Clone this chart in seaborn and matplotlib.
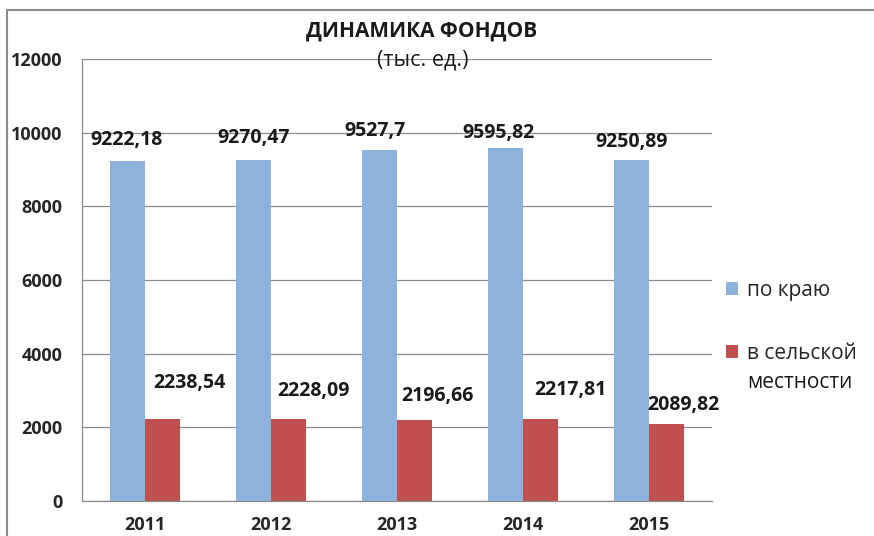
import matplotlib
matplotlib.use("Agg")
import pandas as pd
import seaborn as sns
import matplotlib.pyplot as plt
from matplotlib.patches import Rectangle

# Data
years = ["2011", "2012", "2013", "2014", "2015"]
po_krayu = [9222.18, 9270.47, 9527.7, 9595.82, 9250.89]
v_selskoy = [2238.54, 2228.09, 2196.66, 2217.81, 2089.82]
series_names = ["по краю", "в сельской местности"]

# label offsets relative to bar top (pixels), Excel placed them by hand
blue_off = [(-1, 21), (0, 22), (-4, 19), (-7, 15), (0, 18)]
red_off = [(27, 36), (25, 28), (23, 24), (30, 29), (17, 19)]

df = pd.DataFrame({
    "year": years * 2,
    "value": po_krayu + v_selskoy,
    "series": [series_names[0]] * 5 + [series_names[1]] * 5,
})

sns.set_theme(style="white")
plt.rcParams["font.family"] = ["Open Sans", "DejaVu Sans"]

fig = plt.figure(figsize=(8.74, 5.36), dpi=100)
ax = fig.add_axes([82 / 874, 1 - 501 / 536, (712 - 82) / 874, (501 - 59) / 536])

sns.barplot(data=df, x="year", y="value", hue="series",
            palette=["#8DB3DD", "#C0504D"], saturation=1, width=0.56,
            linewidth=0, ax=ax)

ax.set_ylim(0, 12000)
ax.set_yticks(range(0, 12001, 2000))
ax.set_xlabel("")
ax.set_ylabel("")
ax.yaxis.grid(True, color="#8c8c8c", lw=0.9)
ax.set_axisbelow(True)
for s in ["top", "right"]:
    ax.spines[s].set_visible(False)
for s in ["left", "bottom"]:
    ax.spines[s].set_color("#8c8c8c")
    ax.spines[s].set_linewidth(0.9)
ax.tick_params(axis="y", length=0, pad=14, labelsize=13)
ax.tick_params(axis="x", length=0, pad=11, labelsize=13)
for lbl in ax.get_xticklabels() + ax.get_yticklabels():
    lbl.set_fontweight("bold")

# value labels
for cont, offs in zip(ax.containers, [blue_off, red_off]):
    for bar, (dx, dy) in zip(cont, offs):
        h = bar.get_height()
        txt = f"{h:g}".replace(".", ",")
        ax.annotate(txt, (bar.get_x() + bar.get_width() / 2, h),
                    xytext=(dx, dy), textcoords="offset pixels",
                    ha="center", va="center", fontsize=14, fontweight="bold",
                    color="#1a1a1a")

# legend
handles, labels = ax.get_legend_handles_labels()
ax.legend_.remove()
fig.legend(handles, ["по краю", "в сельской"], loc="upper left",
           bbox_to_anchor=(707 / 874, 1 - 261 / 536), frameon=False,
           fontsize=15, handlelength=0.58, handleheight=0.58,
           handletextpad=0.45, labelspacing=2.03)
fig.text(747 / 874, 1 - 382 / 536, "местности", fontsize=15,
         ha="left", va="center", color="#1a1a1a")

# titles
fig.text(422 / 874, 1 - 31 / 536, "ДИНАМИКА ФОНДОВ", ha="center", va="center",
         fontsize=15, fontweight="bold", color="#1a1a1a")
fig.text(423 / 874, 1 - 60 / 536, "(тыс. ед.)", ha="center", va="center",
         fontsize=15.5, color="#1a1a1a")

# chart frame (cropped)
fig.add_artist(Rectangle((7 / 874, -0.1), 1.2, 1 - 10 / 536 + 0.1,
                         transform=fig.transFigure, fill=False,
                         ec="#8a8a8a", lw=1.5))

fig.savefig("out.png", dpi=100)
